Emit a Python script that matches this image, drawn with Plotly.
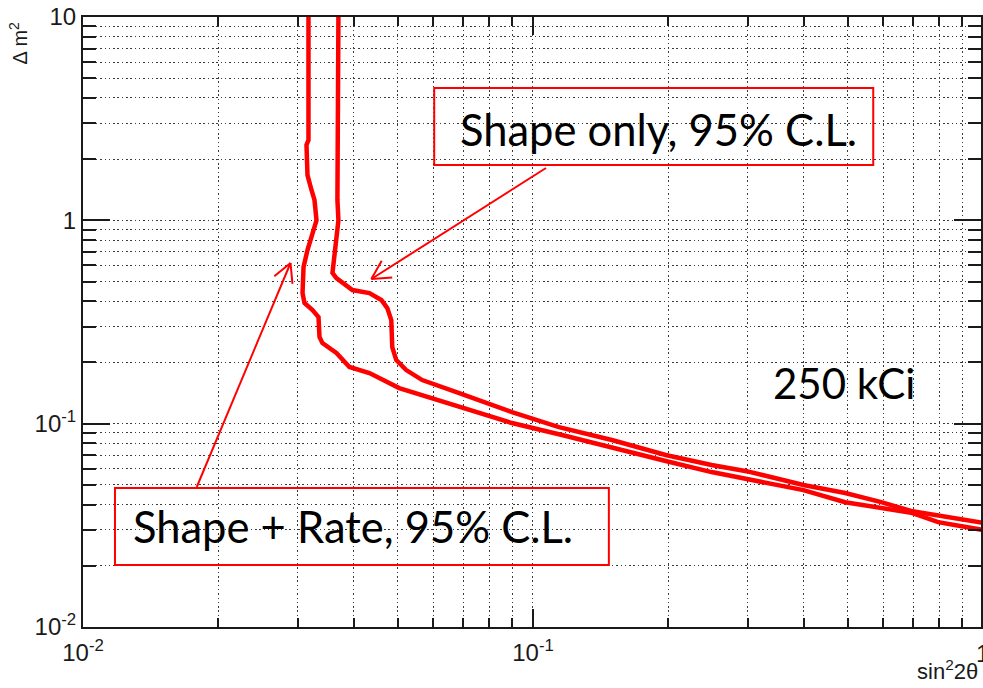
import math
import plotly.graph_objects as go

# Shape only, 95% C.L. (outer curve)
shape_x = [0.03695, 0.03676, 0.03676, 0.03695, 0.03620, 0.03584, 0.03657, 0.03969, 0.04330,
           0.04603, 0.04745, 0.04843, 0.04867, 0.04968, 0.05227, 0.05673, 0.06856, 0.0898,
           0.1142, 0.1497, 0.1972, 0.2494, 0.2982, 0.399, 0.494, 0.594, 0.692, 0.795, 0.985, 1.0]
shape_y = [10.0, 2.48, 1.26, 1.00, 0.617, 0.551, 0.520, 0.454, 0.439,
           0.406, 0.370, 0.323, 0.238, 0.2055, 0.1835, 0.1639, 0.1414, 0.1141,
           0.0962, 0.0831, 0.0701, 0.0626, 0.0584, 0.0499, 0.0456, 0.0411, 0.0372, 0.0355, 0.0328, 0.0325]

# Shape + Rate, 95% C.L. (inner curve)
rate_x = [0.03170, 0.03170, 0.03138, 0.03138, 0.03154, 0.03219, 0.03269, 0.03303, 0.03236,
          0.03154, 0.03091, 0.03075, 0.03075, 0.03106, 0.03236, 0.03337, 0.03354, 0.03405,
          0.03657, 0.03909, 0.04330, 0.05044, 0.05971, 0.06856, 0.0898, 0.1160, 0.1497,
          0.1972, 0.2494, 0.2982, 0.399, 0.494, 0.594, 0.692, 0.795, 0.985, 1.0]
rate_y = [10.0, 2.48, 2.35, 1.87, 1.67, 1.41, 1.26, 1.00, 0.866,
          0.714, 0.589, 0.508, 0.439, 0.392, 0.362, 0.334, 0.267, 0.249,
          0.2225, 0.190, 0.1774, 0.1497, 0.1336, 0.1207, 0.1007, 0.0879, 0.0759,
          0.0655, 0.0578, 0.0534, 0.0471, 0.0411, 0.0385, 0.0365, 0.0328, 0.0303, 0.0300]

x_tickvals = [0.01, 0.1]
x_ticktext = ["10<sup>-2</sup>", "10<sup>-1</sup>"]
y_tickvals = [0.01, 0.1, 1, 10]
y_ticktext = ["10<sup>-2</sup>", "10<sup>-1</sup>", "1", "10"]

RED = "#ff0000"
AX = "#1a1a1a"
GRID = "#3a3a3a"
TICKFONT = dict(family="Liberation Sans, Arial, sans-serif", size=24, color=AX)
LABFONT = dict(family="Lato, Carlito, sans-serif", size=43.5, color="black")

W, H = 983, 688
ML, MR, MT, MB = 83, 0, 17, 61
PW, PH = W - ML - MR, H - MT - MB


def px2paper(px, py):
    return (px - ML) / PW, (H - MB - py) / PH


fig = go.Figure()
fig.add_trace(go.Scatter(x=shape_x, y=shape_y, mode="lines",
                         line=dict(color=RED, width=4.5), showlegend=False))
fig.add_trace(go.Scatter(x=rate_x, y=rate_y, mode="lines",
                         line=dict(color=RED, width=4.5), showlegend=False))

common_grid = dict(showgrid=True, gridcolor=GRID, gridwidth=1.2, griddash="1.5px,2.8px")

fig.update_xaxes(type="log", range=[-2, -0.0044], tickmode="array",
                 tickvals=x_tickvals, ticktext=x_ticktext,
                 ticks="inside", ticklen=18, tickwidth=2, tickcolor=AX,
                 showline=True, linecolor=AX, linewidth=2, mirror="allticks",
                 tickfont=TICKFONT, ticklabelstandoff=3, zeroline=False,
                 minor=dict(tickmode="linear", dtick="D1", ticks="inside", ticklen=9,
                            tickwidth=2, tickcolor=AX, **common_grid),
                 **common_grid)
fig.update_yaxes(type="log", range=[-2, 1], tickmode="array",
                 tickvals=y_tickvals, ticktext=y_ticktext,
                 ticks="inside", ticklen=27, tickwidth=2, tickcolor=AX,
                 showline=True, linecolor=AX, linewidth=2, mirror="allticks",
                 tickfont=TICKFONT, ticklabelstandoff=0, zeroline=False,
                 minor=dict(tickmode="linear", dtick="D1", ticks="inside", ticklen=13,
                            tickwidth=2, tickcolor=AX, **common_grid),
                 **common_grid)

# boxes
fig.add_shape(type="rect", xref="paper", yref="paper", x0=0.3911, x1=0.88, y0=0.7574, y1=0.8836,
              line=dict(color=RED, width=2), fillcolor="rgba(0,0,0,0)")
fig.add_shape(type="rect", xref="paper", yref="paper", x0=0.0356, x1=0.5856, y0=0.1016, y1=0.2279,
              line=dict(color=RED, width=2), fillcolor="rgba(0,0,0,0)")

ann = [
    dict(text="Shape only, 95% C.L.", x=0.6406, y=0.817, font=LABFONT),
    dict(text="Shape + Rate, 95% C.L.", x=0.3011, y=0.166, font=LABFONT),
    dict(text="250 kCi", x=0.8478, y=0.400, font=dict(LABFONT, size=42)),
]
for a in ann:
    fig.add_annotation(xref="paper", yref="paper", showarrow=False,
                       xanchor="center", yanchor="middle", **a)


# open "V" arrows drawn as line shapes (pixel layout positions)
def add_arrow(tail, tip, wing=21, ang=28):
    tx, ty = tail
    hx, hy = tip
    d = math.atan2(ty - hy, tx - hx)
    segs = [(tail, tip)]
    for s in (-1, 1):
        a = d + s * math.radians(ang)
        segs.append((tip, (hx + wing * math.cos(a), hy + wing * math.sin(a))))
    for (p0, p1) in segs:
        x0, y0 = px2paper(*p0)
        x1, y1 = px2paper(*p1)
        fig.add_shape(type="line", xref="paper", yref="paper", x0=x0, y0=y0, x1=x1, y1=y1,
                      line=dict(color=RED, width=2))


add_arrow((547, 168), (372, 279))
add_arrow((197, 487), (291, 263))

# axis titles
fig.add_annotation(xref="paper", yref="paper", x=-0.0722, y=0.957, text="Δ m<sup>2</sup>",
                   textangle=-90, showarrow=False, xanchor="center", yanchor="middle",
                   font=dict(family="Liberation Sans, Arial, sans-serif", size=20, color=AX))
fig.add_annotation(xref="paper", yref="paper", x=0.9267, y=-0.071, text="sin<sup>2</sup>2θ",
                   showarrow=False, xanchor="left", yanchor="middle",
                   font=dict(family="Liberation Sans, Arial, sans-serif", size=22, color=AX))
# partially visible "1" label at the right end of the x axis
fig.add_annotation(xref="paper", yref="paper", x=1.0022, y=0, yshift=-11, text="1",
                   showarrow=False, xanchor="center", yanchor="top", font=TICKFONT)

fig.update_layout(width=W, height=H, margin=dict(l=ML, r=MR, t=MT, b=MB),
                  plot_bgcolor="white", paper_bgcolor="white")

fig.write_html("out.html")
